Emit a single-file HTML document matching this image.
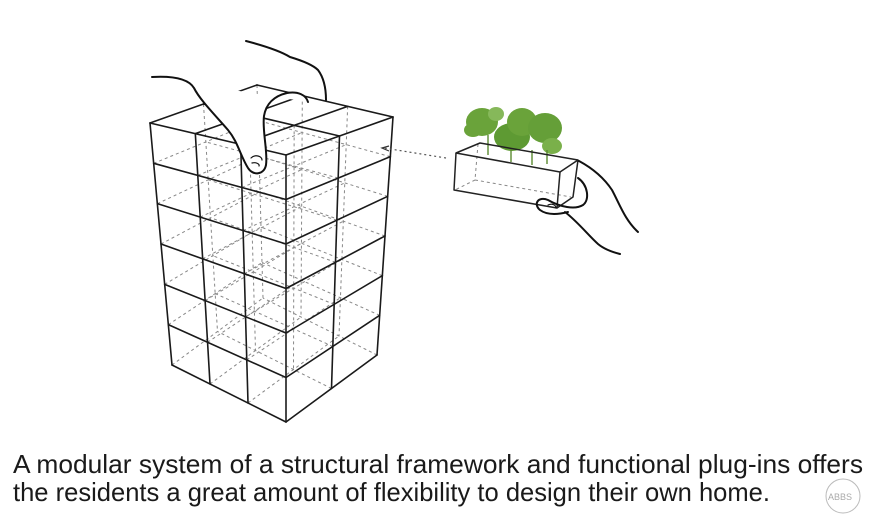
<!DOCTYPE html>
<html><head><meta charset="utf-8"><style>
html,body{margin:0;padding:0;background:#fff;width:882px;height:526px;overflow:hidden}
svg{display:block}
</style></head><body>
<svg id="s" width="882" height="526" viewBox="0 0 882 526" xmlns="http://www.w3.org/2000/svg">
<g id="dash" stroke="#888" stroke-width="1" stroke-dasharray="3,3" fill="none"></g>
<g id="solid" stroke="#1a1a1a" stroke-width="1.6" fill="none" stroke-linecap="round"></g>
<!-- top hand -->
<g stroke="#111" stroke-width="2" fill="none" stroke-linecap="round">
<path d="M152,77 C170,76 188,78 194,88 C200,100 215,115 228,130 C238,142 240,155 248,168 C253,176 264,175 266,165 C268,152 262,130 264,116 C266,104 274,96 287,93 C298,91 306,95 308,102" fill="#fff"/>
<path d="M246,41 C265,46 282,52 290,57 C300,60 312,64 318,70 C324,78 326,90 326,100"/>
<path d="M251,158 C255,154 262,156 262,160 M252,163 C256,162 260,164 259,166" stroke-width="1.2"/>
</g>
<!-- dotted arrow -->
<line x1="446" y1="158" x2="384" y2="148" stroke="#555" stroke-width="1.2" stroke-dasharray="2,3"/>
<path d="M389,146 L382,148 L389,151" stroke="#333" stroke-width="1.2" fill="none"/>
<!-- trees -->
<g fill="#6aa33a">
<ellipse cx="482" cy="122" rx="16" ry="14"/>
<ellipse cx="473" cy="130" rx="9" ry="7"/>
<ellipse cx="512" cy="137" rx="18" ry="14" fill="#5e9a33"/>
<ellipse cx="522" cy="122" rx="15" ry="14"/>
<ellipse cx="545" cy="128" rx="17" ry="15" fill="#659f38"/>
<ellipse cx="552" cy="146" rx="10" ry="8" fill="#7ab04a"/>
<ellipse cx="496" cy="114" rx="8" ry="7" fill="#86b85a"/>
</g>
<g stroke="#5a8a30" stroke-width="1.4">
<line x1="488" y1="135" x2="488" y2="155"/><line x1="511" y1="148" x2="511" y2="162"/>
<line x1="532" y1="150" x2="532" y2="165"/><line x1="547" y1="150" x2="547" y2="164"/>
</g>
<!-- plant box -->
<g stroke="#888" stroke-width="1" stroke-dasharray="3,3" fill="none">
<path d="M478,144 L475,180 L455,190 M475,180 L571,197"/>
</g>
<g stroke="#222" stroke-width="1.5" fill="none" stroke-linejoin="round">
<path d="M456,153 L480,143 L578,160 L560,172 L456,153 Z"/>
<path d="M456,153 L454,190 L557,208 L560,172"/>
<path d="M578,160 L573,197 L557,208"/>
</g>
<!-- right hand -->
<g stroke="#111" stroke-width="2" fill="none" stroke-linecap="round">
<path d="M579,161 C592,168 604,178 612,190 C620,205 625,220 638,232"/>
<path d="M578,178 C588,185 590,200 583,205 C575,210 560,207 548,200 C538,196 533,204 540,210 C548,216 560,214 568,212"/>
<path d="M565,212 C578,222 588,235 598,244 C604,249 612,252 620,254"/>
<path d="M548,205 C552,203 556,205 556,208" stroke-width="1.2"/>
</g>
<!-- caption -->
<g font-family="'Liberation Sans Narrow','Liberation Sans',sans-serif" font-size="26" fill="#1a1a1a">
<text x="13" y="473" textLength="850" lengthAdjust="spacingAndGlyphs">A modular system of a structural framework and functional plug-ins offers</text>
<text x="13" y="501" textLength="757" lengthAdjust="spacingAndGlyphs">the residents a great amount of flexibility to design their own home.</text>
</g>
<g stroke="#bbb" fill="none" stroke-width="1"><circle cx="843" cy="496" r="17"/><text x="828" y="500" font-size="9" fill="#aaa" stroke="none" font-family="'Liberation Sans',sans-serif">ABBS</text></g>
</svg>
<script>
(function(){
var NS="http://www.w3.org/2000/svg";
var solid=document.getElementById('solid'),dash=document.getElementById('dash');
function ln(g,a,b){var l=document.createElementNS(NS,'line');l.setAttribute('x1',a[0]);l.setAttribute('y1',a[1]);l.setAttribute('x2',b[0]);l.setAttribute('y2',b[1]);g.appendChild(l);}
function lerp(a,b,t){return [a[0]+(b[0]-a[0])*t,a[1]+(b[1]-a[1])*t];}
var Lt=[150,123],Ft=[286,155],Rt=[393,117],Lb=[172,365],Fb=[286,422],Rb=[377,355];
function P(side,u,v){ // level v 0..1 top to bottom
 var L=lerp(Lt,Lb,v),F=lerp(Ft,Fb,v),R=lerp(Rt,Rb,v);
 return {L:L,F:F,R:R,B:[L[0]+R[0]-F[0],L[1]+R[1]-F[1]]};
}
// point on plane at level v with coordinates a (along F->L, 0..1) and b (along F->R, 0..1)
function Q(v,a,b){var p=P(0,0,v);return [p.F[0]+(p.L[0]-p.F[0])*a+(p.R[0]-p.F[0])*b, p.F[1]+(p.L[1]-p.F[1])*a+(p.R[1]-p.F[1])*b];}
// dashed interior
for(var k=1;k<=6;k++){var v=k/6;
 for(var i=1;i<=3;i++){ln(dash,Q(v,i/3,0),Q(v,i/3,1));}
 for(var j=1;j<=2;j++){ln(dash,Q(v,0,j/2),Q(v,1,j/2));}
}
for(var i=0;i<=3;i++)for(var j=0;j<=2;j++){if(i==0||j==0)continue;ln(dash,Q(0,i/3,j/2),Q(1,i/3,j/2));}
// solid faces
for(var k=0;k<=6;k++){var v=k/6;ln(solid,Q(v,1,0),Q(v,0,0));ln(solid,Q(v,0,0),Q(v,0,1));}
for(var i=0;i<=3;i++)ln(solid,Q(0,i/3,0),Q(1,i/3,0));
for(var j=1;j<=2;j++)ln(solid,Q(0,0,j/2),Q(1,0,j/2));
// top
for(var i=1;i<=3;i++)ln(solid,Q(0,i/3,0),Q(0,i/3,1));
for(var j=1;j<=2;j++)ln(solid,Q(0,0,j/2),Q(0,1,j/2));
})();
</script>
</body></html>
